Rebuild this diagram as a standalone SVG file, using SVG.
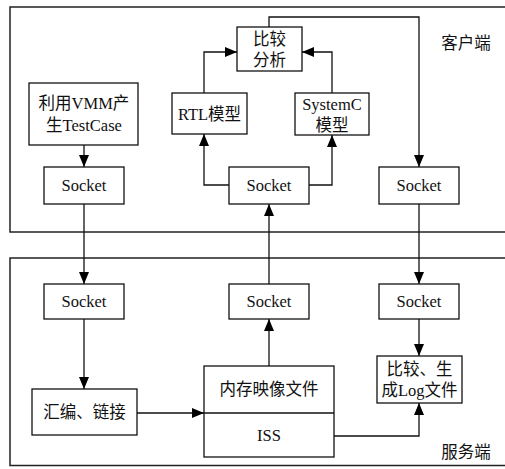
<svg xmlns="http://www.w3.org/2000/svg" width="505" height="469" viewBox="0 0 505 469">
<defs>
<marker id="ah" markerWidth="12" markerHeight="10" refX="12" refY="5" orient="auto" markerUnits="userSpaceOnUse">
<path d="M0,0 L12,5 L0,10 Z" fill="#000"/>
</marker>
<style>
.reg{fill:none;stroke:#222;stroke-width:1.5}
.box{fill:#fff;stroke:#111;stroke-width:1.3}
.c{fill:none;stroke:#111;stroke-width:1.3;marker-end:url(#ah)}
.l{fill:none;stroke:#111;stroke-width:1.3}
text{font-family:"Liberation Serif","Noto Sans CJK SC",serif;font-size:16.5px;fill:#111;text-anchor:middle;dominant-baseline:central}
</style>
</defs>
<rect width="505" height="469" fill="#fff"/>
<g id="client-region">
<rect class="reg" x="10" y="7" width="500" height="225"/>
<text x="466" y="43">客户端</text>
</g>
<g id="server-region">
<rect class="reg" x="10" y="258" width="500" height="207.5"/>
<text x="466" y="452">服务端</text>
</g>
<g id="connectors">
<polyline class="c" points="269,27 269,17 419,17 419,167"/>
<polyline class="c" points="204,93 204,52 237,52"/>
<polyline class="c" points="332,93 332,52 302,52"/>
<polyline class="c" points="84,145 84,167"/>
<polyline class="c" points="229,185 204,185 204,134"/>
<polyline class="c" points="309,185 332,185 332,135"/>
<polyline class="c" points="269,284 269,204"/>
<polyline class="c" points="84,204 84,284"/>
<polyline class="c" points="419,204 419,284"/>
<polyline class="c" points="84,319 84,389"/>
<polyline class="c" points="137,413 204,413"/>
<polyline class="c" points="269,366 269,319"/>
<polyline class="c" points="419,319 419,356"/>
<polyline class="c" points="334,436 419,436 419,403"/>
</g>
<g id="compare">
<rect class="box" x="237" y="27" width="65" height="44"/>
<text x="269.5" y="39">比较</text>
<text x="269.5" y="60">分析</text>
</g>
<g id="rtl">
<rect class="box" x="172" y="93" width="75" height="41"/>
<text x="209.5" y="114">RTL模型</text>
</g>
<g id="systemc">
<rect class="box" x="295" y="93" width="74" height="42"/>
<text x="332" y="104">SystemC</text>
<text x="332" y="125">模型</text>
</g>
<g id="vmm">
<rect class="box" x="29" y="83" width="109" height="62"/>
<text x="84" y="103">利用VMM产</text>
<text x="84" y="125">生TestCase</text>
</g>
<g id="socket-c1">
<rect class="box" x="44" y="167" width="80" height="37"/>
<text x="84" y="185.5">Socket</text>
</g>
<g id="socket-c2">
<rect class="box" x="229" y="167" width="80" height="37"/>
<text x="269" y="185.5">Socket</text>
</g>
<g id="socket-c3">
<rect class="box" x="379" y="167" width="80" height="37"/>
<text x="419" y="185.5">Socket</text>
</g>
<g id="socket-s1">
<rect class="box" x="44" y="284" width="80" height="35"/>
<text x="84" y="301.5">Socket</text>
</g>
<g id="socket-s2">
<rect class="box" x="229" y="284" width="80" height="35"/>
<text x="269" y="301.5">Socket</text>
</g>
<g id="socket-s3">
<rect class="box" x="379" y="284" width="80" height="35"/>
<text x="419" y="301.5">Socket</text>
</g>
<g id="asm">
<rect class="box" x="32" y="389" width="105" height="46"/>
<text x="84.5" y="412">汇编、链接</text>
</g>
<g id="mem-iss">
<rect class="box" x="204" y="366" width="130" height="91"/>
<line class="l" x1="204" y1="413" x2="334" y2="413"/>
<text x="269" y="389">内存映像文件</text>
<text x="269" y="435">ISS</text>
</g>
<g id="log">
<rect class="box" x="377" y="356" width="85" height="47"/>
<text x="419.5" y="369">比较、生</text>
<text x="419.5" y="390">成Log文件</text>
</g>
</svg>
